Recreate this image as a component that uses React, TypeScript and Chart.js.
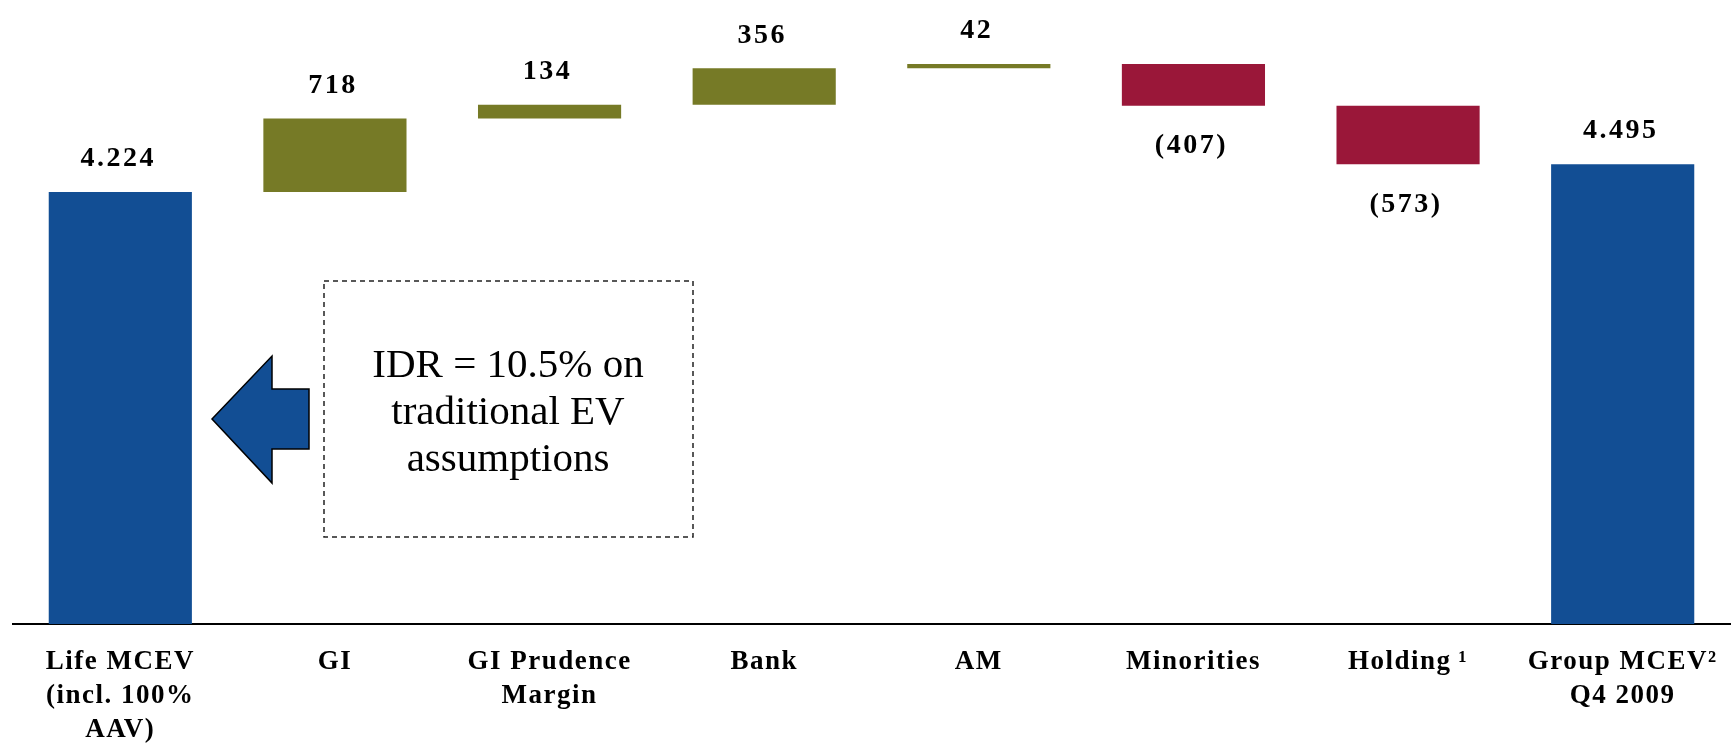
import React, { useEffect, useRef } from "react";
import { Chart, registerables } from "chart.js";

Chart.register(...registerables);

// ---- data ----
const categories: (string | string[])[] = [
  ["Life MCEV", "(incl. 100%", "AAV)"],
  "GI",
  ["GI Prudence", "Margin"],
  "Bank",
  "AM",
  "Minorities",
  "Holding\u2009¹",
  ["Group MCEV²", "Q4 2009"],
];
const startValue = 4224;
const changes = [718, 134, 356, 42, -407, -573];
const endValue = 4495;
const kinds = ["total", "up", "up", "up", "up", "down", "down", "total"];
const noteLines = ["IDR = 10.5% on", "traditional EV", "assumptions"];
const yMax = 6100;

const palette: Record<string, string> = {
  total: "#124E94",
  up: "#767A26",
  down: "#9A1739",
};

// build floating ranges from the values
const ranges: [number, number][] = [[0, startValue]];
let running = startValue;
for (const c of changes) {
  const next = running + c;
  ranges.push([Math.min(running, next), Math.max(running, next)]);
  running = next;
}
ranges.push([0, endValue]);

const fmtTotal = (v: number) => String(v).replace(/\B(?=(\d{3})+(?!\d))/g, ".");
const valueLabels: string[] = [
  fmtTotal(startValue),
  ...changes.map((c) => (c < 0 ? `(${Math.abs(c)})` : String(c))),
  fmtTotal(endValue),
];

const SERIF = "'Liberation Serif', 'DejaVu Serif', serif";

const spacingPlugin = {
  id: "letterSpacing",
  beforeDraw(chart: any) {
    (chart.ctx as any).letterSpacing = "1.5px";
  },
};

const labelPlugin = {
  id: "waterfallLabels",
  afterDatasetsDraw(chart: any) {
    const ctx = chart.ctx as CanvasRenderingContext2D;
    const meta = chart.getDatasetMeta(0);
    ctx.save();
    (ctx as any).letterSpacing = "2.5px";
    ctx.fillStyle = "#000";
    ctx.font = `bold 28px ${SERIF}`;
    ctx.textAlign = "center";
    ctx.textBaseline = "middle";
    meta.data.forEach((el: any, i: number) => {
      const top = Math.min(el.y, el.base);
      const bottom = Math.max(el.y, el.base);
      const y = kinds[i] === "down" ? bottom + 40 : top - 33;
      ctx.fillText(valueLabels[i], el.x - 2, y);
    });
    ctx.restore();
  },
};

const notePlugin = {
  id: "note",
  afterDraw(chart: any) {
    const ctx = chart.ctx as CanvasRenderingContext2D;
    ctx.save();
    (ctx as any).letterSpacing = "0px";
    // dashed box
    ctx.setLineDash([5, 4]);
    ctx.lineWidth = 1.5;
    ctx.strokeStyle = "#222";
    ctx.strokeRect(324, 281, 369, 256);
    ctx.setLineDash([]);
    // arrow
    ctx.beginPath();
    ctx.moveTo(212, 419);
    ctx.lineTo(272, 356);
    ctx.lineTo(272, 389);
    ctx.lineTo(309, 389);
    ctx.lineTo(309, 449);
    ctx.lineTo(272, 449);
    ctx.lineTo(272, 483);
    ctx.closePath();
    ctx.fillStyle = palette.total;
    ctx.fill();
    ctx.lineWidth = 1.5;
    ctx.strokeStyle = "#000";
    ctx.stroke();
    // text
    ctx.fillStyle = "#000";
    ctx.font = `41px ${SERIF}`;
    ctx.textAlign = "center";
    ctx.textBaseline = "alphabetic";
    noteLines.forEach((t, i) => ctx.fillText(t, 508, 377 + i * 47));
    ctx.restore();
  },
};

export default function App() {
  const ref = useRef<HTMLCanvasElement | null>(null);
  useEffect(() => {
    if (!ref.current) return;
    const chart = new Chart(ref.current, {
      type: "bar",
      data: {
        labels: categories as any,
        datasets: [
          {
            data: ranges as any,
            backgroundColor: kinds.map((k) => palette[k]),
            borderWidth: 0,
            barPercentage: 0.667,
            categoryPercentage: 1,
          },
        ],
      },
      options: {
        responsive: false,
        animation: false,
        layout: { padding: { left: 13, right: 1, top: 0, bottom: 0 } },
        plugins: {
          legend: { display: false },
          tooltip: { enabled: false },
        },
        scales: {
          x: {
            grid: { display: false, drawTicks: false },
            border: { display: true, color: "#000", width: 2 },
            ticks: {
              color: "#000",
              font: { family: SERIF, weight: "bold", size: 27, lineHeight: 1.26 },
              padding: 21,
              maxRotation: 0,
              minRotation: 0,
              autoSkip: false,
            },
            afterFit: (s: any) => {
              s.height = 120;
            },
          },
          y: { display: false, min: 0, max: yMax },
        },
      },
      plugins: [spacingPlugin, labelPlugin, notePlugin],
    });
    return () => chart.destroy();
  }, []);
  return (
    <div style={{ position: "absolute", left: 0, top: 0, width: 1731, height: 744, background: "#fff" }}>
      <canvas ref={ref} width={1731} height={744} />
    </div>
  );
}
